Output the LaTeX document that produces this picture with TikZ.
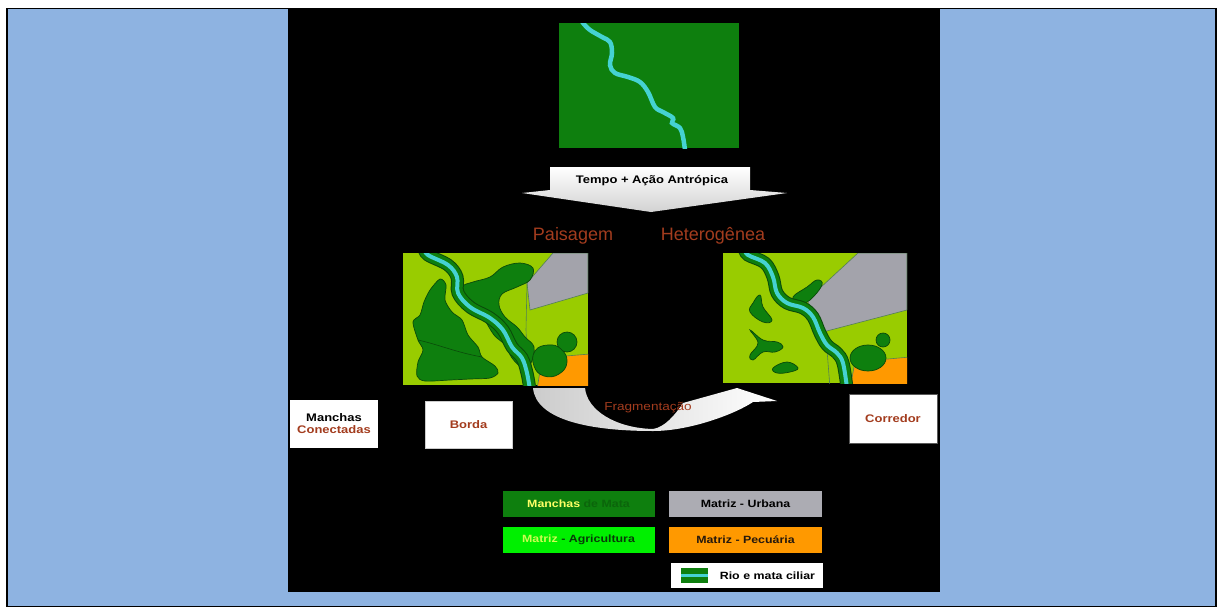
\documentclass[tikz,border=0pt]{standalone}
\usepackage{fontspec}
\setmainfont{Liberation Sans}
\newfontfamily\widefont[FakeStretch=1.18]{Liberation Sans}
\usetikzlibrary{positioning}

\definecolor{panelblue}{HTML}{8EB3E1}
\definecolor{forest}{HTML}{0E7F0E}
\definecolor{forestdark}{HTML}{0A4A0A}
\definecolor{rivercyan}{HTML}{45D2D2}
\definecolor{fieldlime}{HTML}{99CC00}
\definecolor{urbangray}{HTML}{A3A3AB}
\definecolor{pastureorange}{HTML}{FF9900}
\definecolor{rust}{HTML}{A33C1E}
\definecolor{brightgreen}{HTML}{00F000}
\definecolor{paleyellow}{HTML}{FFFF66}

\begin{document}
\begin{tikzpicture}[
            x = 1pt, y = -1pt, % one unit per pixel, y going down
            boldtext/.style = {font=\widefont\bfseries\fontsize{11}{13}\selectfont},
            labelbox/.style = {boldtext, fill=white, draw=gray!40, align=center,
                               minimum width=88pt, minimum height=48pt, inner sep=2pt},
            keybox/.style = {font=\widefont\bfseries\fontsize{10.5}{12}\selectfont,
                             minimum width=152pt, minimum height=26pt, inner sep=0pt},
            patch/.style = {fill=forest, draw=forestdark, line width=0.7},
            border/.style = {draw=forestdark!70, line width=0.6},
            bigtext/.style = {text=rust, font=\fontsize{18}{20}\selectfont, anchor=base}
        ]

	\useasboundingbox (0,0) rectangle (1217,608);
	\draw[fill=panelblue, line width=1.3] (7,8.5) rectangle (1216,606.5);
	\fill[black] (288,8) rectangle (940,592);

	% untouched forest crossed by the river
	\fill[forest] (559,23) rectangle (739,148);
	\begin{scope}
		\clip (559,23) rectangle (739,148);
		\draw[rivercyan, line width=4.5, line cap=round] plot[smooth, tension=0.6] coordinates {
			(580,18) (583,23) (590,30) (602,37) (610,42) (612,53) (610,65) (615,73)
			(628,77) (640,82) (648,92) (655,107) (663,112) (673,118) (672,123)
			(680,128) (683,137) (685,150)};
	\end{scope}

	% time and human action
	\shade[top color=white, bottom color=gray!35]
		(550,167) -- (750,167) -- (750,190) -- (787,193) -- (651,212)
		-- (522,193) -- (550,190) -- cycle;
	\node[boldtext] (acao) at (652,181) {Tempo + Ação Antrópica};

	\node[bigtext] (paisagem) at (573,240) {Paisagem};
	\node[bigtext] (heterogenea) at (713,240) {Heterogênea};

	% landscape before fragmentation
	\fill[fieldlime] (403,253) rectangle (588,385);
	\begin{scope}
		\clip (403,253) rectangle (588,385);
		\filldraw[fill=urbangray, border] (553,253) -- (588,253) -- (588,293) -- (530,310) -- (527,283) -- cycle;
		\filldraw[fill=pastureorange, border] (537,390) -- (542,358) -- (590,354) -- (590,390) -- cycle;
		\draw[border] (527,283) -- (526,330) -- (527,353) -- (531,388);
		\draw[patch] plot[smooth cycle, tension=0.5] coordinates {
			(440,279) (446,285) (445,300) (452,312) (462,320) (468,335) (478,347)
			(482,357) (495,366) (498,373) (490,378) (470,379) (450,380) (425,381)
			(417,376) (418,362) (423,350) (418,340) (413,322) (420,315) (424,302)
			(430,290)};
		\draw[forestdark, line width=0.6] (418,340) .. controls (440,345) and (455,352) .. (482,357);
		\draw[patch] plot[smooth cycle, tension=0.6] coordinates {
			(462,287) (473,282) (490,277) (503,267) (520,263) (533,268) (530,280)
			(517,287) (502,294) (499,305) (505,317) (517,327) (525,337) (534,347)
			(531,363) (523,368) (512,358) (505,345) (494,335) (484,319) (475,309)
			(463,301)};
		\draw[patch] (567,342) circle (10);
		\draw[patch] plot[smooth cycle, tension=0.8] coordinates {
			(535,351) (548,345) (561,349) (567,362) (559,374) (544,376) (534,366)};
		\draw[forestdark, line width=13] plot[smooth, tension=0.6] coordinates {
			(424,248) (428,255) (448,265) (457,277) (458,293) (470,307) (490,318)
			(503,330) (512,347) (522,358) (527,373) (530,390)};
		\draw[forest, line width=11] plot[smooth, tension=0.6] coordinates {
			(424,248) (428,255) (448,265) (457,277) (458,293) (470,307) (490,318)
			(503,330) (512,347) (522,358) (527,373) (530,390)};
		\draw[rivercyan, line width=4] plot[smooth, tension=0.6] coordinates {
			(424,248) (428,255) (448,265) (457,277) (458,293) (470,307) (490,318)
			(503,330) (512,347) (522,358) (527,373) (530,390)};
	\end{scope}

	% landscape after fragmentation
	\fill[fieldlime] (723,253) rectangle (907,383);
	\begin{scope}
		\clip (723,253) rectangle (907,383);
		\filldraw[fill=urbangray, border] (858,253) -- (907,253) -- (907,310) -- (823,332) -- (807,300) -- cycle;
		\filldraw[fill=pastureorange, border] (850,388) -- (855,362) -- (910,357) -- (910,388) -- cycle;
		\draw[border] (823,332) -- (827,350) -- (830,388);
		\draw[patch] plot[smooth cycle, tension=0.7] coordinates {
			(793,297) (807,287) (817,280) (822,285) (810,300) (800,303)};
		\draw[patch] plot[smooth cycle, tension=0.7] coordinates {
			(753,303) (760,295) (763,307) (772,320) (763,322) (750,312)};
		\draw[patch] plot[smooth cycle, tension=0.7] coordinates {
			(750,330) (763,340) (777,342) (783,347) (775,352) (763,352) (753,360)
			(750,355) (758,343)};
		\draw[patch] plot[smooth cycle, tension=0.7] coordinates {
			(773,368) (787,362) (798,368) (790,372) (777,373)};
		\draw[patch] (868,358) ellipse (18 and 13);
		\draw[patch] (883,340) circle (7);
		\draw[forestdark, line width=13] plot[smooth, tension=0.6] coordinates {
			(744,248) (748,255) (765,263) (773,277) (777,293) (787,303) (803,308)
			(813,317) (820,333) (827,345) (837,353) (843,363) (847,388)};
		\draw[forest, line width=11] plot[smooth, tension=0.6] coordinates {
			(744,248) (748,255) (765,263) (773,277) (777,293) (787,303) (803,308)
			(813,317) (820,333) (827,345) (837,353) (843,363) (847,388)};
		\draw[rivercyan, line width=4] plot[smooth, tension=0.6] coordinates {
			(744,248) (748,255) (765,263) (773,277) (777,293) (787,303) (803,308)
			(813,317) (820,333) (827,345) (837,353) (843,363) (847,388)};
	\end{scope}

	% curved fragmentation arrow
	\shade[left color=gray!40, right color=white]
		(533,388) .. controls (536,420) and (590,431) .. (653,431)
		.. controls (690,431) and (735,414) .. (753,402)
		-- (777,401) -- (737,388) -- (683,403)
		.. controls (675,415) and (665,427) .. (653,429)
		.. controls (615,428) and (587,410) .. (585,388) -- cycle;
	\node[text=rust, font=\widefont\fontsize{11.5}{13}\selectfont] (frag) at (648,408) {Fragmentação};

	% concepts
	\node[labelbox, draw=none] (conectadas) at (334,424) {Manchas\\[-1pt] \textcolor{rust}{Conectadas}};
	\node[labelbox, minimum width=87pt, minimum height=47pt, text=rust] (borda) at (468.5,424.5) {Borda};
	\node[labelbox, draw=gray!70!black, text=rust, minimum height=49pt] (corredor) at (893,418.5) {Corredor};

	% legend
	\node[keybox, fill=forest] (kmata) at (578.5,504) {\textcolor{paleyellow}{Manchas} \textcolor{forest!80!black}{de Mata}};
	\node[keybox, fill=urbangray!90!white, minimum width=153pt] (kurbana) at (745.5,504) {Matriz - Urbana};
	\node[keybox, fill=brightgreen] (kagric) at (578.5,540) {\textcolor{paleyellow!80!brightgreen}{Matriz} \textcolor{forestdark!80!black}{- Agricultura}};
	\node[keybox, fill=pastureorange, minimum width=153pt, text=black!80!brown] (kpecuaria) at (745.5,540) {Matriz - Pecuária};
	\node[keybox, fill=white, minimum height=25pt, text width=136pt, align=right, inner xsep=8pt] (krio) at (747,575.5) {Rio e mata ciliar};
	\node[fill=forest, minimum width=27pt, minimum height=15pt, inner sep=0pt, right=10pt of krio.west] (ksym) {};
	\draw[rivercyan, line width=3] (ksym.west) -- (ksym.east);
\end{tikzpicture}
\end{document}
